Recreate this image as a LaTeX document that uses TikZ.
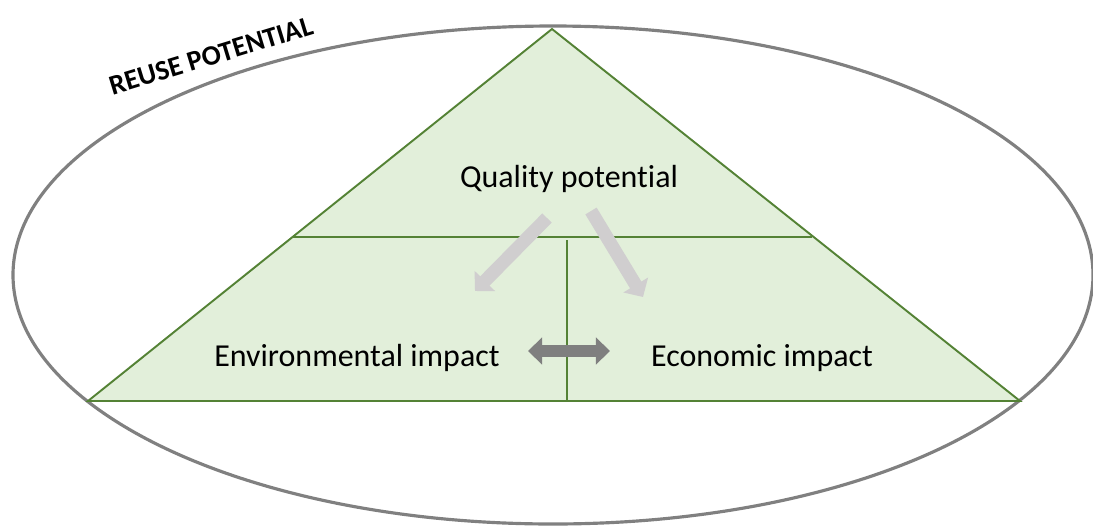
\documentclass[tikz,border=0pt]{standalone}
\usepackage{fontspec}
\setmainfont[Ligatures=NoCommon]{Carlito}
\usetikzlibrary{arrows.meta}
\definecolor{ellgray}{HTML}{808080}
\definecolor{trigreen}{HTML}{548235}
\definecolor{trifill}{HTML}{E2EFDA}
\definecolor{lightarr}{HTML}{D0CECF}
\definecolor{darkarr}{HTML}{7F7F7F}
\tikzset{
  lbl/.style={font=\fontsize{18.2}{22}\selectfont, inner sep=0pt},
  gline/.style={draw=trigreen, line width=1.1pt},
  flowarrow/.style={draw=lightarr, line width=7.5pt, -{Triangle[width=16pt,length=8pt,fill=lightarr]}},
  bothway/.style={draw=darkarr, line width=7pt, {Triangle[width=15pt,length=8pt,fill=darkarr]}-{Triangle[width=15pt,length=8pt,fill=darkarr]}},
}
\begin{document}
\begin{tikzpicture}[x=0.02cm,y=-0.02cm]
\useasboundingbox (0,0) rectangle (1093,525);
% ellipse
\draw[ellgray, line width=1.8pt] (553,275) ellipse [x radius=540, y radius=249];
% triangle corners
\coordinate (apex) at (552,29);
\coordinate (bl) at (88,401);
\coordinate (br) at (1020,401);
\coordinate (ml) at (292,237);
\coordinate (mr) at (812,237);
\coordinate (vt) at (567,240);
\coordinate (vb) at (567,401);
\fill[trifill] (apex) -- (bl) -- (br) -- cycle;
\draw[gline] (apex) -- (bl) -- (br) -- cycle;
\draw[gline] (ml) -- (mr);
\draw[gline] (vt) -- (vb);
% labels
\node[lbl] (qp) at (569,179) {Quality potential};
\node[lbl] (env) at (357,358) {Environmental impact};
\node[lbl] (eco) at (762,358) {Economic impact};
\node[font=\fontsize{16}{19}\selectfont\bfseries, rotate=17, inner sep=0pt] (reuse) at (211,56) {REUSE POTENTIAL};
% arrows
\coordinate (a1s) at (547,218);
\coordinate (a1e) at (475,291);
\coordinate (a2s) at (591,211);
\coordinate (a2e) at (643,297);
\draw[flowarrow] (a1s) -- (a1e);
\draw[flowarrow] (a2s) -- (a2e);
\coordinate (dl) at (528,351);
\coordinate (dr) at (610,351);
\draw[bothway] (dl) -- (dr);
\end{tikzpicture}
\end{document}
